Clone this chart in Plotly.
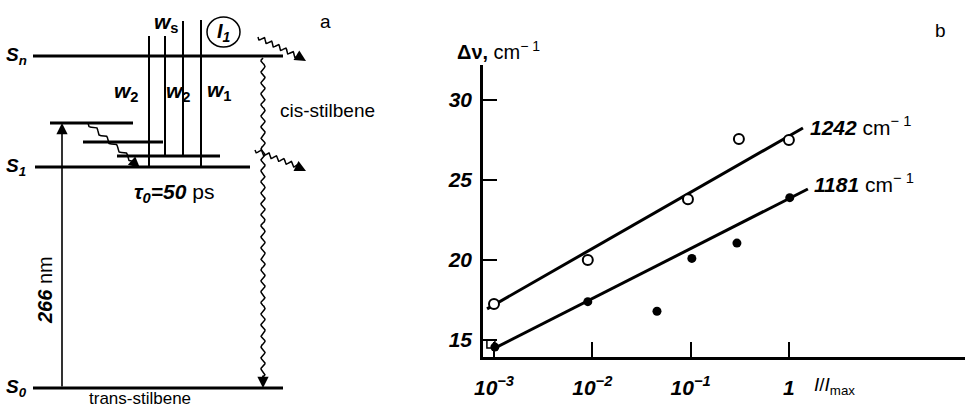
import numpy as np
import plotly.graph_objects as go

# ---------------- data (panel b) ----------------
open_x = [0.001, 0.0090, 0.094, 0.31, 1.0]
open_y = [17.25, 20.0, 23.8, 27.56, 27.5]
filled_x = [0.00102, 0.0090, 0.0455, 0.103, 0.296, 1.02]
filled_y = [14.56, 17.4, 16.8, 20.1, 21.06, 23.9]
extra_x = [0.00093]
extra_y = [14.75]
fit_1242_x = [0.00085, 1.39]
fit_1242_y = [16.95, 28.25]
fit_1181_x = [0.00095, 1.56]
fit_1181_y = [14.4, 24.44]
x_tickvals = [0.001, 0.01, 0.1, 1]
x_ticktext = ["10<sup>\u22123</sup>", "10<sup>\u22122</sup>", "10<sup>\u22121</sup>", "1"]
y_tickvals = [15, 20, 25, 30]
y_ticktext = ["15", "20", "25", "30"]

# ---------------- diagram (panel a), schematic units ----------------
level_label = ["<i><b>S</b></i><sub><i><b>n</b></i></sub>", "<i><b>S</b></i><sub><i><b>1</b></i></sub>",
               "<i><b>S</b></i><sub><i><b>0</b></i></sub>"]
level_y = [56, 167, 388]
level_x0 = [33, 35, 33]
level_x1 = [283, 250, 283]
vib_y = [123, 142, 156]
vib_x0 = [50, 83, 117]
vib_x1 = [133, 163, 220]
probe_x = [149, 165, 183, 201]
probe_top = [36, 36, 21, 20]
probe_bottom = [167, 156, 156, 167]

NUM = "Liberation Sans Narrow, Liberation Sans, Arial"
TXT = "Liberation Sans, Arial"

fig = go.Figure()

# panel b traces
fig.add_trace(go.Scatter(x=fit_1242_x, y=fit_1242_y, mode="lines",
                         line=dict(color="black", width=3), xaxis="x", yaxis="y", showlegend=False))
fig.add_trace(go.Scatter(x=fit_1181_x, y=fit_1181_y, mode="lines",
                         line=dict(color="black", width=3), xaxis="x", yaxis="y", showlegend=False))
fig.add_trace(go.Scatter(x=open_x, y=open_y, mode="markers",
                         marker=dict(symbol="circle", size=10, color="white",
                                     line=dict(color="black", width=2)),
                         xaxis="x", yaxis="y", showlegend=False))
fig.add_trace(go.Scatter(x=extra_x, y=extra_y, mode="markers",
                         marker=dict(symbol="square", size=8, color="white",
                                     line=dict(color="black", width=1.5)),
                         xaxis="x", yaxis="y", showlegend=False))
fig.add_trace(go.Scatter(x=filled_x, y=filled_y, mode="markers",
                         marker=dict(symbol="circle", size=9, color="black"),
                         xaxis="x", yaxis="y", showlegend=False))


def wavy(p0, p1, amp, period, n=300):
    p0 = np.array(p0, float)
    p1 = np.array(p1, float)
    d = p1 - p0
    L = np.hypot(*d)
    u = d / L
    nv = np.array([-u[1], u[0]])
    t = np.linspace(0, L, n)
    off = amp * np.sin(2 * np.pi * t / period)
    pts = p0[None, :] + t[:, None] * u[None, :] + off[:, None] * nv[None, :]
    return pts[:, 0], pts[:, 1]


waves = [
    ((263, 58), (263, 378), 2.0, 11),
    ((258, 37), (297, 56), 2.2, 8),
    ((255, 150), (297, 166), 2.2, 8),
    ((88, 123), (134, 162), 2.0, 13),
]
for p0, p1, a, per in waves:
    wx, wy = wavy(p0, p1, a, per)
    fig.add_trace(go.Scatter(x=wx, y=wy, mode="lines", line=dict(color="black", width=1.5),
                             xaxis="x2", yaxis="y2", showlegend=False, hoverinfo="skip"))

shapes = []
for y, x0, x1 in zip(level_y, level_x0, level_x1):
    shapes.append(dict(type="line", xref="x2", yref="y2", x0=x0, x1=x1, y0=y, y1=y,
                       line=dict(color="black", width=3.2)))
for y, x0, x1 in zip(vib_y, vib_x0, vib_x1):
    shapes.append(dict(type="line", xref="x2", yref="y2", x0=x0, x1=x1, y0=y, y1=y,
                       line=dict(color="black", width=3.2)))
for x, t, b in zip(probe_x, probe_top, probe_bottom):
    shapes.append(dict(type="line", xref="x2", yref="y2", x0=x, x1=x, y0=t, y1=b,
                       line=dict(color="black", width=2)))
shapes.append(dict(type="circle", xref="x2", yref="y2", x0=207, x1=240, y0=17, y1=47,
                   line=dict(color="black", width=1.5)))

ann = []


def arrow(x, y, ax, ay):
    ann.append(dict(x=x, y=y, ax=ax, ay=ay, xref="x2", yref="y2", axref="x2", ayref="y2",
                    text="", showarrow=True, arrowhead=2, arrowsize=1.4, arrowwidth=1.6,
                    arrowcolor="black", standoff=0, startstandoff=0))


arrow(62, 123, 62, 388)
arrow(263, 388, 263, 374)
arrow(306, 61, 296, 55)
arrow(306, 171, 296, 166)
arrow(140, 168, 132, 161)


def txt(x, y, s, size=20, fam=TXT, xanchor="center", ref="2", angle=0):
    ann.append(dict(x=x, y=y, text=s, xref="x" + ref, yref="y" + ref, showarrow=False,
                    xanchor=xanchor, yanchor="middle", textangle=angle,
                    font=dict(family=fam, size=size, color="black")))


for lab, y in zip(level_label, level_y):
    txt(16, y, lab, size=19, fam=NUM)
txt(166, 23, "<i><b>w</b></i><sub><b>s</b></sub>", size=21, fam=NUM)
txt(126, 92, "<i><b>w</b></i><sub><b>2</b></sub>", size=21, fam=NUM)
txt(178, 92, "<i><b>w</b></i><sub><b>2</b></sub>", size=21, fam=NUM)
txt(219, 91, "<i><b>w</b></i><sub><b>1</b></sub>", size=21, fam=NUM)
txt(224, 32, "<i><b>I</b></i><sub><i><b>1</b></i></sub>", size=20, fam=NUM)
txt(327, 110, "cis-stilbene", size=19)
txt(174, 193, "<i><b>\u03c4</b></i><sub><i><b>0</b></i></sub><i><b>=50</b></i> ps", size=21, fam=NUM)
txt(45, 290, "<i><b>266</b></i> nm", size=20, fam=NUM, angle=-90)
txt(140, 398, "trans-stilbene", size=17)
txt(325, 21, "a", size=19)

# panel b annotations (log axis: x in log10 units)
ann.append(dict(x=np.log10(1.58), y=28.35, xref="x", yref="y", showarrow=False, xanchor="left",
                yanchor="middle", text="<i><b>1242</b></i> cm<sup>\u2212 1</sup>",
                font=dict(family=NUM, size=21, color="black")))
ann.append(dict(x=np.log10(1.72), y=24.8, xref="x", yref="y", showarrow=False, xanchor="left",
                yanchor="middle", text="<i><b>1181</b></i> cm<sup>\u2212 1</sup>",
                font=dict(family=NUM, size=21, color="black")))
ann.append(dict(x=455 / 965, y=1 - 50 / 407, xref="paper", yref="paper", showarrow=False,
                xanchor="left", yanchor="middle", text="<b>\u0394\u03bd,</b> cm<sup>\u2212 1</sup>",
                font=dict(family=TXT, size=20, color="black")))
ann.append(dict(x=812 / 965, y=1 - 386 / 407, xref="paper", yref="paper", showarrow=False,
                xanchor="left", yanchor="middle", text="<i>I</i>/<i>I</i><sub>max</sub>",
                font=dict(family=TXT, size=19, color="black")))
ann.append(dict(x=940 / 965, y=1 - 30 / 407, xref="paper", yref="paper", showarrow=False,
                xanchor="center", yanchor="middle", text="b",
                font=dict(family=TXT, size=19, color="black")))

xl = -3 - 11 / 98.3
xr = -3 + 471 / 98.3

fig.update_layout(
    width=965, height=407, margin=dict(l=0, r=0, t=0, b=0, pad=0, autoexpand=False),
    paper_bgcolor="white", plot_bgcolor="white", showlegend=False,
    shapes=shapes, annotations=ann,
    xaxis=dict(domain=[483 / 965, 1.0], type="log", range=[xl, xr],
               showline=True, linecolor="black", linewidth=2.5, mirror=False,
               showgrid=False, zeroline=False, ticks="inside", ticklen=15, tickwidth=1.5,
               tickcolor="black", tickvals=x_tickvals, ticktext=x_ticktext,
               tickfont=dict(family=NUM, size=21, color="black", style="italic", weight="bold"),
               ticklabelstandoff=10, anchor="y", automargin=False),
    yaxis=dict(domain=[(407 - 357) / 407, (407 - 65) / 407], range=[13.94, 32.19],
               showline=True, linecolor="black", linewidth=2.5, showgrid=False, zeroline=False,
               ticks="inside", ticklen=14, tickwidth=1.5, tickcolor="black",
               tickvals=y_tickvals, ticktext=y_ticktext,
               tickfont=dict(family=NUM, size=21, color="black", style="italic", weight="bold"),
               ticklabelstandoff=4, anchor="x", automargin=False),
    xaxis2=dict(domain=[0, 400 / 965], range=[0, 400], visible=False, anchor="y2", automargin=False),
    yaxis2=dict(domain=[0, 1], range=[407, 0], visible=False, anchor="x2", automargin=False),
)

fig.write_html("out.html", config={"displayModeBar": False},
               post_script="document.body.style.margin='0';document.body.style.overflow='hidden';")
